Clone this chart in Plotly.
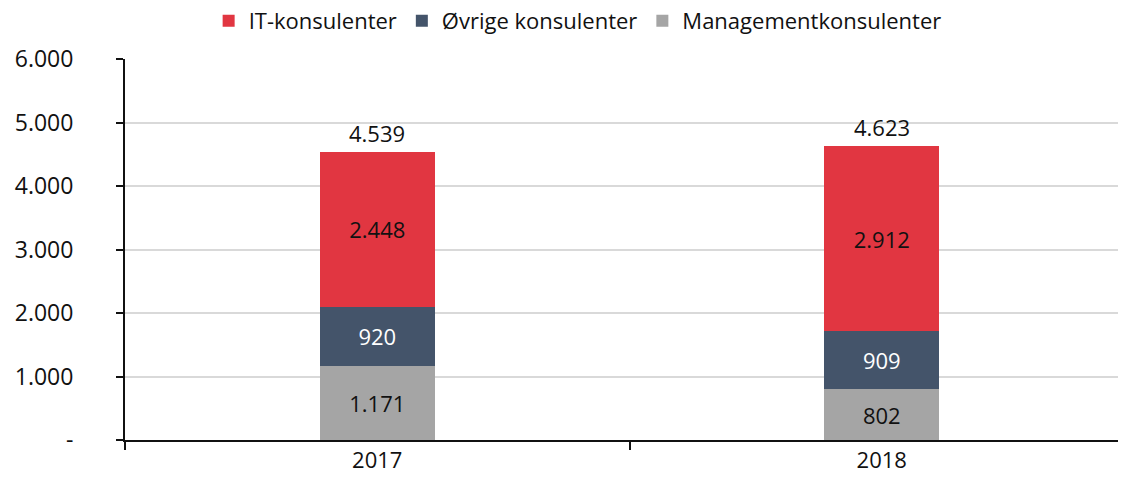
import plotly.graph_objects as go

years = ["2017", "2018"]
management = [1171, 802]
ovrige = [920, 909]
it = [2448, 2912]
totals = [4539, 4623]

y_ticks = [0, 1000, 2000, 3000, 4000, 5000, 6000]
y_ticktext = ["-", "1.000", "2.000", "3.000", "4.000", "5.000", "6.000"]

FONT = "'Open Sans', sans-serif"


def _fmt(v):
    return f"{v:,}".replace(",", ".")


fig = go.Figure()

fig.add_trace(go.Bar(
    x=years, y=management, name="Managementkonsulenter",
    marker=dict(color="#A5A5A5", line_width=0),
    text=[_fmt(v) for v in management], textposition="inside",
    insidetextanchor="middle", textfont=dict(color="#111111", size=22),
))
fig.add_trace(go.Bar(
    x=years, y=ovrige, name="Øvrige konsulenter",
    marker=dict(color="#44546A", line_width=0),
    text=[_fmt(v) for v in ovrige], textposition="inside",
    insidetextanchor="middle", textfont=dict(color="#FFFFFF", size=22),
))
fig.add_trace(go.Bar(
    x=years, y=it, name="IT-konsulenter",
    marker=dict(color="#E13641", line_width=0),
    text=[_fmt(v) for v in it], textposition="inside",
    insidetextanchor="middle", textfont=dict(color="#111111", size=22),
))

# totals above each stack (category index for x)
for i, tot in enumerate(totals):
    fig.add_annotation(
        x=i, y=tot, xref="x", yref="y", text=_fmt(tot), showarrow=False,
        yanchor="bottom", yshift=2,
        font=dict(size=22, color="#111111"),
    )

# page body has an 8px margin, so the figure is drawn 8px in from the window edge
fig.update_layout(
    barmode="stack",
    bargap=0.772,
    plot_bgcolor="white",
    paper_bgcolor="white",
    font=dict(family=FONT, size=22, color="#111111"),
    margin=dict(l=117, r=0, t=51, b=36, autoexpand=False),
    width=1126, height=468,
    legend=dict(
        orientation="h", traceorder="reversed",
        x=0.4486, xanchor="center",
        y=1.10, yanchor="middle",
        font=dict(size=22), itemwidth=30,
    ),
    xaxis=dict(
        type="category", tickson="boundaries",
        range=[-0.5, 1.5], automargin=False,
        showline=True, linecolor="#111111", linewidth=2,
        ticks="outside", ticklen=8, tickwidth=2, tickcolor="#111111",
        showgrid=False,
    ),
    yaxis=dict(
        range=[0, 6000], automargin=False,
        tickvals=y_ticks, ticktext=y_ticktext,
        showline=True, linecolor="#111111", linewidth=2,
        ticks="outside", ticklen=7, tickwidth=2, tickcolor="#111111",
        showgrid=True, gridcolor="#D9D9D9", gridwidth=2,
        zeroline=False,
        ticklabelstandoff=38, tickfont=dict(size=23),
    ),
)

fig.write_html("out.html")
